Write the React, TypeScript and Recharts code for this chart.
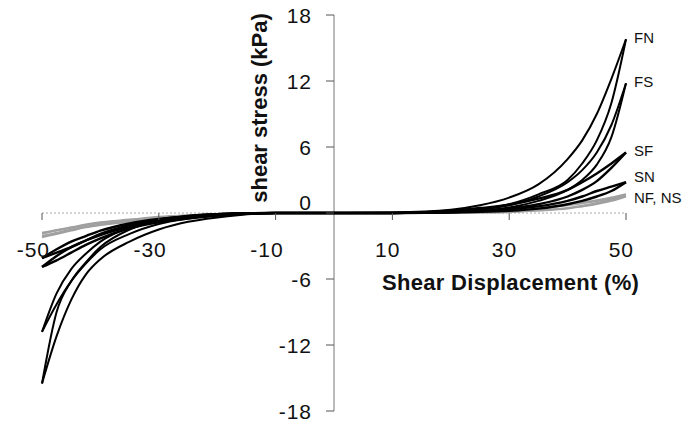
import { LineChart, Line, XAxis, YAxis, ReferenceLine, ReferenceDot } from "recharts"

const shearDisp = [-50, -47.5, -45, -42.5, -40, -35, -30, -25, -20, -10, 0, 10, 20, 25, 30, 35, 40, 42.5, 45, 47.5, 50]

// each specimen: two branches of the hysteresis loop (kPa)
const fnA = [-15.5, -9.0, -6.2, -4.5, -3.1, -1.5, -0.7, -0.3, -0.1, 0, 0, 0.05, 0.3, 0.7, 1.4, 2.6, 4.9, 6.6, 9.0, 12.2, 15.8]
const fnB = [-15.5, -11.2, -7.9, -5.6, -4.2, -2.6, -1.5, -0.8, -0.4, 0, 0, 0, 0.15, 0.35, 0.8, 1.7, 3.0, 4.5, 6.6, 10.0, 15.8]
const fsA = [-10.8, -7.3, -5.1, -3.7, -2.6, -1.3, -0.6, -0.25, -0.1, 0, 0, 0, 0.1, 0.3, 0.7, 1.5, 2.8, 3.9, 5.5, 8.0, 11.8]
const fsB = [-10.8, -8.3, -6.2, -4.6, -3.3, -1.9, -1.0, -0.5, -0.2, 0, 0, 0, 0.05, 0.2, 0.5, 1.1, 2.1, 3.0, 4.4, 6.9, 11.8]
const sfA = [-4.9, -3.9, -3.1, -2.5, -1.9, -1.1, -0.6, -0.35, -0.15, 0, 0, 0, 0.2, 0.45, 0.75, 1.3, 2.1, 2.8, 3.6, 4.5, 5.5]
const sfB = [-4.9, -4.3, -3.6, -2.9, -2.3, -1.4, -0.85, -0.5, -0.25, 0, 0, 0, 0.1, 0.2, 0.4, 0.8, 1.5, 2.1, 2.9, 4.1, 5.5]
const snA = [-4.1, -3.3, -2.6, -2.1, -1.6, -0.95, -0.55, -0.3, -0.1, 0, 0, 0, 0.1, 0.2, 0.35, 0.6, 1.1, 1.5, 2.0, 2.4, 2.8]
const snB = [-4.1, -3.6, -3.1, -2.5, -2.0, -1.25, -0.75, -0.4, -0.2, 0, 0, 0, 0.05, 0.1, 0.2, 0.4, 0.8, 1.1, 1.5, 2.0, 2.8]
const nfA = [-1.8, -1.55, -1.3, -1.05, -0.85, -0.6, -0.35, -0.2, -0.1, 0, 0, 0, 0.05, 0.15, 0.25, 0.45, 0.75, 0.95, 1.15, 1.4, 1.7]
const nfB = [-2.1, -1.8, -1.5, -1.25, -1.05, -0.75, -0.5, -0.3, -0.15, 0, 0, 0, 0, 0.05, 0.1, 0.25, 0.45, 0.65, 0.9, 1.2, 1.6]
const nsA = [-1.9, -1.6, -1.35, -1.1, -0.9, -0.65, -0.4, -0.22, -0.1, 0, 0, 0, 0.04, 0.12, 0.22, 0.4, 0.7, 0.88, 1.08, 1.32, 1.6]
const nsB = [-2.2, -1.9, -1.6, -1.3, -1.1, -0.8, -0.55, -0.32, -0.15, 0, 0, 0, 0, 0.04, 0.1, 0.22, 0.4, 0.6, 0.82, 1.1, 1.5]

const xTicks = [-50, -30, -10, 10, 30, 50]
const yTicks = [-18, -12, -6, 0, 6, 12, 18]

// curve labels at the right end and the stress level they sit at
const curveNames = ["FN", "FS", "SF", "SN", "NF, NS"]
const curveLabelAt = [15.9, 11.9, 5.7, 3.3, 1.4]

const data = shearDisp.map((x, i) => ({
  x,
  fnA: fnA[i], fnB: fnB[i],
  fsA: fsA[i], fsB: fsB[i],
  sfA: sfA[i], sfB: sfB[i],
  snA: snA[i], snB: snB[i],
  nfA: nfA[i], nfB: nfB[i],
  nsA: nsA[i], nsB: nsB[i],
}))

const W = 699
const H = 424
const margin = { top: 15, right: 73, bottom: 12, left: 41 }
const axisSize = 1
const plotW = W - margin.left - margin.right - axisSize
const plotH = H - margin.top - margin.bottom - axisSize
const zeroX = margin.left + axisSize + plotW / 2
const zeroY = margin.top + plotH / 2

const font = "'Liberation Sans', Arial, Helvetica, sans-serif"

const renderXTick = (props: any) => {
  const { x, payload } = props
  return (
    <g key={`xt-${payload.value}`}>
      <line x1={x} y1={zeroY} x2={x} y2={zeroY + 7} stroke="#555" strokeWidth={1} />
      <text x={x + 8} y={zeroY + 44} textAnchor="end" fontSize={21} fill="#111" letterSpacing={1}>
        {payload.value}
      </text>
    </g>
  )
}

const renderYTick = (props: any) => {
  const { y, payload } = props
  const base = payload.value === 0 ? y - 3 : y + 7.5
  return (
    <g key={`yt-${payload.value}`}>
      <line x1={zeroX - 8} y1={y} x2={zeroX} y2={y} stroke="#555" strokeWidth={1} />
      <text x={zeroX - 22} y={base} textAnchor="end" fontSize={21} fill="#111" letterSpacing={1}>
        {payload.value}
      </text>
    </g>
  )
}

const gray = ["nfA", "nfB", "nsA", "nsB"]
const black = [
  { key: "snA", w: 2.4 },
  { key: "snB", w: 2.4 },
  { key: "sfA", w: 2.4 },
  { key: "sfB", w: 2.4 },
  { key: "fsA", w: 2 },
  { key: "fsB", w: 2 },
  { key: "fnA", w: 2 },
  { key: "fnB", w: 2 },
]

export default function App() {
  return (
    <div style={{ position: "absolute", left: 0, top: 0, width: W, height: H, background: "#fff", fontFamily: font }}>
      <LineChart width={W} height={H} data={data} margin={margin}>
        <XAxis
          type="number"
          dataKey="x"
          domain={[-50, 50]}
          ticks={xTicks}
          height={axisSize}
          axisLine={false}
          tickLine={false}
          tick={renderXTick}
          interval={0}
        />
        <YAxis
          type="number"
          domain={[-18, 18]}
          ticks={yTicks}
          width={axisSize}
          axisLine={false}
          tickLine={false}
          tick={renderYTick}
          interval={0}
        />
        <ReferenceLine y={0} stroke="#aaa" strokeDasharray="2 2" />
        <ReferenceLine x={0} stroke="#777" strokeWidth={1} />
        {gray.map((k) => (
          <Line key={k} dataKey={k} type="monotone" stroke="#a0a0a0" strokeWidth={2} dot={false} activeDot={false} isAnimationActive={false} />
        ))}
        {black.map((s) => (
          <Line key={s.key} dataKey={s.key} type="monotone" stroke="#000" strokeWidth={s.w} dot={false} activeDot={false} isAnimationActive={false} />
        ))}
        {curveNames.map((name, i) => (
          <ReferenceDot
            key={name}
            x={50}
            y={curveLabelAt[i]}
            r={1}
            fill="none"
            stroke="none"
            label={{ value: name, position: "right", offset: 7, fontSize: 15, fill: "#111" }}
          />
        ))}
      </LineChart>
      <svg width={W} height={H} style={{ position: "absolute", left: 0, top: 0, pointerEvents: "none" }}>
        <text x={382} y={290} fontSize={22} fontWeight="bold" fill="#111" letterSpacing={0.3}>
          Shear Displacement (%)
        </text>
        <text
          x={267}
          y={108}
          fontSize={22}
          fontWeight="bold"
          fill="#111"
          textAnchor="middle"
          transform="rotate(-90 267 108)"
        >
          shear stress (kPa)
        </text>
      </svg>
    </div>
  )
}
